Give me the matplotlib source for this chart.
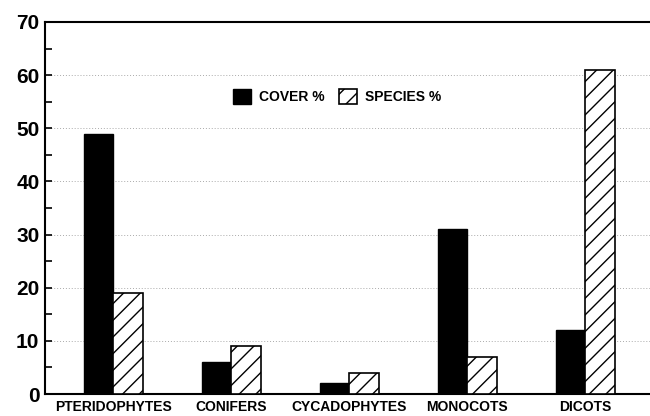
import matplotlib.pyplot as plt
import numpy as np

groups = ["PTERIDOPHYTES", "CONIFERS", "CYCADOPHYTES", "MONOCOTS", "DICOTS"]
cover = [49, 6, 2, 31, 12]
species = [19, 9, 4, 7, 61]
yticks = [0, 10, 20, 30, 40, 50, 60, 70]

plt.rcParams['font.family'] = ['Liberation Sans', 'DejaVu Sans']
plt.rcParams['hatch.linewidth'] = 1.0

fig = plt.figure(figsize=(6.5, 4.16), dpi=100)
ax = fig.add_axes([45 / 650, 22 / 416, 605 / 650, 372 / 416])

x = np.arange(len(groups))
w = 0.25
ax.bar(x - w / 2, cover, w, color="black", edgecolor="black", linewidth=1, label="COVER %", zorder=3)
ax.bar(x + w / 2, species, w, color="white", edgecolor="black", linewidth=1.2,
       hatch="//", label="SPECIES %", zorder=3)

ax.set_xlim(-0.58, 4.55)
ax.set_ylim(0, 70)
ax.set_yticks(yticks)
ax.set_yticks(range(5, 70, 10), minor=True)
ax.set_xticks(x)
ax.set_xticklabels(groups, fontsize=10, fontweight="bold")
ax.tick_params(axis="x", length=0, pad=4)
ax.tick_params(axis="y", which="both", direction="in", length=5, width=1.2, labelsize=15, pad=4)
for lab in ax.get_yticklabels():
    lab.set_fontweight("bold")

ax.grid(axis="y", linestyle=(0, (1, 2)), color="#aaaaaa", linewidth=0.7, zorder=0)
ax.spines["right"].set_visible(False)
for s in ["left", "top", "bottom"]:
    ax.spines[s].set_linewidth(1.5)

leg = ax.legend(loc="center", bbox_to_anchor=(0.483, 0.8), ncol=2, frameon=False,
                prop={"weight": "bold", "size": 10}, handlelength=1.3, handleheight=1.3,
                columnspacing=1.0, handletextpad=0.6)

fig.savefig("out.png", dpi=100)
